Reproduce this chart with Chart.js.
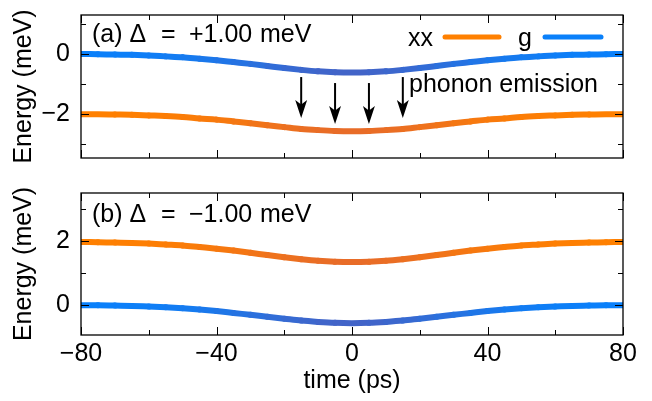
<!DOCTYPE html>
<html>
<head>
<meta charset="utf-8">
<script src="https://cdn.jsdelivr.net/npm/chart.js@4"></script>
<style>
  html, body { margin: 0; padding: 0; background: #fff; }
  #wrap { position: relative; width: 652px; height: 401px; }
  #wrap canvas { position: absolute; left: 0; }
</style>
</head>
<body>
<div id="wrap">
  <canvas id="panelA" width="652" height="170" style="top:0"></canvas>
  <canvas id="panelB" width="652" height="231" style="top:170px"></canvas>
</div>
<script>
// time axis (ps)
const time = [-80,-75,-70,-65,-60,-55,-50,-45,-40,-35,-30,-25,-20,-15,-10,-5,0,5,10,15,20,25,30,35,40,45,50,55,60,65,70,75,80];

// panel (a) Delta = +1.00 meV
const gA  = [0,-0.01,-0.02,-0.03,-0.05,-0.08,-0.11,-0.16,-0.21,-0.27,-0.33,-0.40,-0.47,-0.53,-0.58,-0.61,-0.62,-0.61,-0.58,-0.53,-0.47,-0.40,-0.33,-0.27,-0.21,-0.16,-0.11,-0.08,-0.05,-0.03,-0.02,-0.01,0];
const xxA = [-2.01,-2.01,-2.02,-2.03,-2.05,-2.07,-2.10,-2.15,-2.19,-2.25,-2.31,-2.38,-2.44,-2.50,-2.54,-2.57,-2.58,-2.57,-2.54,-2.50,-2.44,-2.38,-2.31,-2.25,-2.19,-2.15,-2.10,-2.07,-2.05,-2.03,-2.02,-2.01,-2.01];

// panel (b) Delta = -1.00 meV
const xxB = [1.97,1.96,1.95,1.94,1.92,1.89,1.86,1.81,1.76,1.70,1.63,1.56,1.49,1.43,1.38,1.35,1.34,1.35,1.38,1.43,1.49,1.56,1.63,1.70,1.76,1.81,1.86,1.89,1.92,1.94,1.95,1.96,1.97];
const gB  = [-0.01,-0.01,-0.02,-0.03,-0.05,-0.07,-0.10,-0.14,-0.19,-0.25,-0.31,-0.37,-0.43,-0.49,-0.53,-0.56,-0.57,-0.56,-0.53,-0.49,-0.43,-0.37,-0.31,-0.25,-0.19,-0.14,-0.10,-0.07,-0.05,-0.03,-0.02,-0.01,-0.01];

// phonon emission arrows (panel a)
const arrowTime = [-15, -5, 5, 15];
const arrowFrom = [-0.77, -0.97, -0.97, -0.77];
const arrowTo   = [-2.03, -2.23, -2.23, -2.03];

// ticks
const timeTicks  = [-80,-60,-40,-20,0,20,40,60,80];
const timeLabels = ['−80','','−40','','0','','40','','80'];
const energyTicksA  = [-3,-2,-1,0,1];
const energyLabelsA = ['','−2','','0',''];
const energyTicksB  = [0,1,2,3];
const energyLabelsB = ['0','','2',''];

const FONT = "'Liberation Sans', Arial, Helvetica, sans-serif";
Chart.defaults.font.family = FONT;
Chart.defaults.font.size = 25;
Chart.defaults.color = '#000';

const BLUE = [10,128,250], BLUE_MID = [66,100,200];
const ORANGE = [255,128,0], ORANGE_MID = [232,108,40];

// colour follows the energy shift, like the gnuplot palette
function shade(ys, edge, mid) {
    const base = ys[0];
    const lo = Math.min(...ys);
    return ctx => {
        const v = (ys[ctx.p0DataIndex] + ys[ctx.p1DataIndex]) / 2;
        let f = (base - v) / (base - lo);
        f = Math.max(0, Math.min(1, f));
        const c = edge.map((e, i) => Math.round(e + (mid[i] - e) * f));
        return 'rgb(' + c.join(',') + ')';
    };
}

function line(ys, edge, mid) {
    return {
        data: ys.map((y, i) => ({ x: time[i], y: y })),
        borderColor: 'rgb(' + edge.join(',') + ')',
        borderWidth: 6,
        borderCapStyle: 'round',
        borderJoinStyle: 'round',
        pointRadius: 0,
        cubicInterpolationMode: 'monotone',
        segment: { borderColor: shade(ys, edge, mid) }
    };
}

// frame with inward ticks on all four sides
function framePlugin(yTicks, yLabels) {
    return {
        id: 'frame',
        afterDatasetsDraw(chart) {
            const { ctx, chartArea: a, scales } = chart;
            ctx.save();
            ctx.strokeStyle = '#000';
            ctx.lineWidth = 1.3;
            ctx.strokeRect(a.left, a.top, a.right - a.left, a.bottom - a.top);
            ctx.lineWidth = 1;
            timeTicks.forEach((t, i) => {
                const x = Math.round(scales.x.getPixelForValue(t)) + 0.5;
                const len = timeLabels[i] ? 8 : 5;
                ctx.beginPath();
                ctx.moveTo(x, a.bottom); ctx.lineTo(x, a.bottom - len);
                ctx.moveTo(x, a.top); ctx.lineTo(x, a.top + len);
                ctx.stroke();
            });
            yTicks.forEach((v, i) => {
                const y = Math.round(scales.y.getPixelForValue(v)) + 0.5;
                const len = yLabels[i] ? 8 : 5;
                ctx.beginPath();
                ctx.moveTo(a.left, y); ctx.lineTo(a.left + len, y);
                ctx.moveTo(a.right, y); ctx.lineTo(a.right - len, y);
                ctx.stroke();
            });
            ctx.restore();
        }
    };
}

// panel label, gnuplot-like wide spacing around "="
function textPlugin(tag, sign, y, extra) {
    return {
        id: 'texts',
        afterDraw(chart) {
            const ctx = chart.ctx;
            ctx.save();
            ctx.fillStyle = '#000';
            ctx.font = '25px ' + FONT;
            ctx.textBaseline = 'alphabetic';
            ctx.fillText(tag + ' Δ', 92, y);
            ctx.fillText('=', 161, y);
            ctx.fillText(sign + '1.00', 189, y);
            ctx.fillText('meV', 260, y);
            if (extra) extra(chart, ctx);
            ctx.restore();
        }
    };
}

function axisOptions(yMin, yMax, yTicks, yLabels, showX) {
    return {
        x: {
            type: 'linear', min: -80, max: 80,
            grid: { display: false, drawTicks: false }, border: { display: false },
            afterBuildTicks: ax => { ax.ticks = timeTicks.map(v => ({ value: v })); },
            ticks: { display: showX, autoSkip: false, maxRotation: 0, padding: 4,
                     callback: (v, i) => timeLabels[i] },
            title: { display: showX, text: 'time (ps)', padding: { top: 0, bottom: 5 } },
            afterFit: ax => {
                ax.height = showX ? 66 : 12;
                ax.paddingLeft = 0; ax.paddingRight = 0;
            }
        },
        y: {
            min: yMin, max: yMax,
            grid: { display: false, drawTicks: false }, border: { display: false },
            afterBuildTicks: ax => { ax.ticks = yTicks.map(v => ({ value: v })); },
            ticks: { autoSkip: false, padding: 11, callback: (v, i) => yLabels[i] },
            title: { display: true, text: 'Energy (meV)', padding: { top: 9, bottom: 0 } },
            afterFit: ax => {
                ax.width = 81;
                ax.paddingTop = 0; ax.paddingBottom = 0;
            }
        }
    };
}

new Chart(document.getElementById('panelA'), {
    type: 'line',
    data: {
        datasets: [
            line(gA, BLUE, BLUE_MID),
            line(xxA, ORANGE, ORANGE_MID)
        ]
    },
    options: {
        responsive: false, animation: false,
        layout: { padding: { top: 15, right: 29, left: 0, bottom: 0 } },
        plugins: { legend: { display: false }, tooltip: { enabled: false } },
        scales: axisOptions(-3.47, 1.3, energyTicksA, energyLabelsA, false)
    },
    plugins: [
        framePlugin(energyTicksA, energyLabelsA),
        textPlugin('(a)', '+', 42, (chart, ctx) => {
            const X = chart.scales.x, Y = chart.scales.y;
            // legend: text then sample line
            ctx.textAlign = 'right';
            ctx.fillText('xx', 433, 46);
            ctx.fillText('g', 532, 46);
            ctx.lineCap = 'round';
            ctx.lineWidth = 5;
            ctx.strokeStyle = 'rgb(' + ORANGE.join(',') + ')';
            ctx.beginPath(); ctx.moveTo(445, 37); ctx.lineTo(499, 37); ctx.stroke();
            ctx.strokeStyle = 'rgb(' + BLUE.join(',') + ')';
            ctx.beginPath(); ctx.moveTo(545, 37); ctx.lineTo(601, 37); ctx.stroke();
            // arrows
            ctx.textAlign = 'left';
            ctx.fillText('phonon emission', 409, 92);
            ctx.strokeStyle = '#000';
            ctx.fillStyle = '#000';
            ctx.lineWidth = 2;
            ctx.lineCap = 'butt';
            arrowTime.forEach((t, i) => {
                const x = X.getPixelForValue(t);
                const y0 = Y.getPixelForValue(arrowFrom[i]);
                const y1 = Y.getPixelForValue(arrowTo[i]);
                ctx.beginPath();
                ctx.moveTo(x, y0); ctx.lineTo(x, y1 - 2);
                ctx.stroke();
                ctx.beginPath();
                ctx.moveTo(x, y1);
                ctx.lineTo(x - 4, y1 - 12);
                ctx.lineTo(x, y1 - 9);
                ctx.lineTo(x + 4, y1 - 12);
                ctx.closePath();
                ctx.fill();
                ctx.stroke();
            });
        })
    ]
});

new Chart(document.getElementById('panelB'), {
    type: 'line',
    data: {
        datasets: [
            line(xxB, ORANGE, ORANGE_MID),
            line(gB, BLUE, BLUE_MID)
        ]
    },
    options: {
        responsive: false, animation: false,
        layout: { padding: { top: 23, right: 29, left: 0, bottom: 0 } },
        plugins: { legend: { display: false }, tooltip: { enabled: false } },
        scales: axisOptions(-0.94, 3.5, energyTicksB, energyLabelsB, true)
    },
    plugins: [
        framePlugin(energyTicksB, energyLabelsB),
        textPlugin('(b)', '−', 52)
    ]
});
</script>
</body>
</html>
